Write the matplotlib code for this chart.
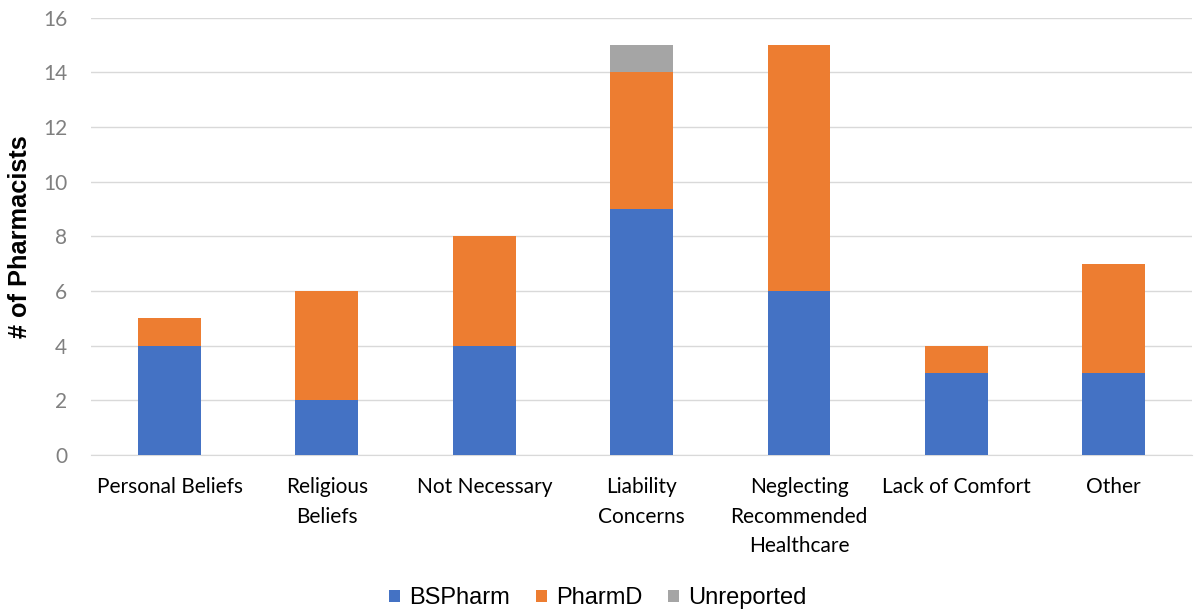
import matplotlib.pyplot as plt
import numpy as np

plt.rcParams['font.family'] = ['Liberation Sans', 'DejaVu Sans']

reasons = ["Personal Beliefs", "Religious\nBeliefs", "Not Necessary", "Liability\nConcerns",
           "Neglecting\nRecommended\nHealthcare", "Lack of Comfort", "Other"]
bspharm = [4, 2, 4, 9, 6, 3, 3]
pharmd = [1, 4, 4, 5, 9, 1, 4]
unreported = [0, 0, 0, 1, 0, 0, 0]

fig = plt.figure(figsize=(11.96, 6.14), dpi=100)
ax = fig.add_axes([0.076, 0.259, 0.921, 0.712])

x = np.arange(len(reasons))
w = 0.4
ax.bar(x, bspharm, w, color="#4472C4", label="BSPharm", zorder=3)
ax.bar(x, pharmd, w, bottom=bspharm, color="#ED7D31", label="PharmD", zorder=3)
ax.bar(x, unreported, w, bottom=np.add(bspharm, pharmd), color="#A5A5A5",
       label="Unreported", zorder=3)

ax.set_xlim(-0.5, len(reasons) - 0.5)
ax.set_ylim(0, 16)
ax.set_yticks(range(0, 17, 2))
ax.set_xticks(x)
ax.set_xticklabels(reasons, fontsize=15, family="Lato", color="#000000",
                   linespacing=1.6, va="top")
for t in ax.get_yticklabels():
    t.set_family("Lato")
ax.tick_params(axis="y", labelsize=15, labelcolor="#808080", length=0, pad=17)
ax.tick_params(axis="x", length=0, pad=16)
ax.grid(axis="y", color="#D9D9D9", linewidth=1, zorder=0)
for s in ["top", "right", "left"]:
    ax.spines[s].set_visible(False)
ax.spines["bottom"].set_color("#D9D9D9")
ax.set_ylabel("# of Pharmacists", fontsize=18.3, fontweight="bold", labelpad=8)

fig.legend(loc="lower center", ncol=3, bbox_to_anchor=(0.5, -0.027), frameon=False,
           fontsize=17, handlelength=0.45, handleheight=0.45, columnspacing=1.1,
           handletextpad=0.4)

fig.savefig("out.png", dpi=100)
